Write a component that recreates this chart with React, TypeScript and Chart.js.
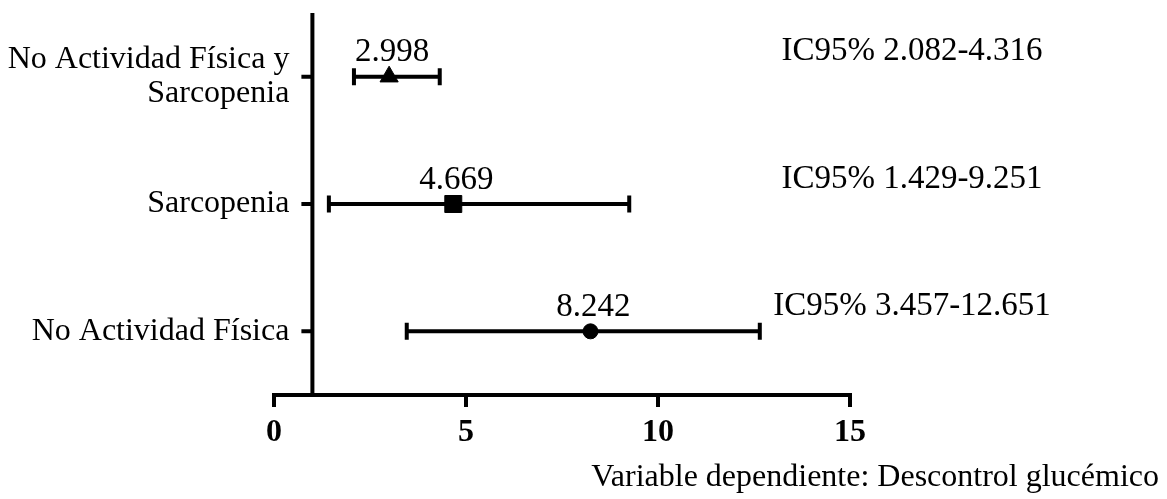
import React, { useEffect, useRef } from 'react';
import { Chart, registerables } from 'chart.js';

Chart.register(...registerables);

// ---------- data ----------
const categories: (string | string[])[] = [
  ['No Actividad Física y', 'Sarcopenia'],
  'Sarcopenia',
  'No Actividad Física',
];
const oddsRatios = [2.998, 4.669, 8.242];
const ciLower = [2.082, 1.429, 3.457];
const ciUpper = [4.316, 9.251, 12.651];
const markerStyles = ['triangle', 'rect', 'circle'];
const markerRadii = [10.5, 12, 7.5];
const xTickValues = [0, 5, 10, 15];
const referenceValue = 1;
const footnote = 'Variable dependiente: Descontrol glucémico';

// ---------- styles ----------
const FONT = "'Liberation Serif', 'Times New Roman', serif";
const TEXT_SIZE = 32;
const NOTE_SIZE = 33;
const W = 1167;
const H = 499;

const forestPlugin = {
  id: 'forest',
  beforeDatasetsDraw(chart: any) {
    const { ctx, chartArea } = chart;
    const x = chart.scales.x;
    const y = chart.scales.y;
    ctx.save();
    ctx.strokeStyle = '#000';
    ctx.lineWidth = 4;
    ctx.lineCap = 'butt';
    // reference vertical line (axis at OR = 1)
    const rx = x.getPixelForValue(referenceValue);
    ctx.beginPath();
    ctx.moveTo(rx, chartArea.top);
    ctx.lineTo(rx, chartArea.bottom);
    ctx.stroke();
    // category tick marks
    ctx.beginPath();
    categories.forEach((_, i) => {
      const py = y.getPixelForValue(i);
      ctx.moveTo(rx, py);
      ctx.lineTo(rx - 11, py);
    });
    ctx.stroke();
    // error bars
    ctx.beginPath();
    oddsRatios.forEach((_, i) => {
      const py = y.getPixelForValue(i);
      const x1 = x.getPixelForValue(ciLower[i]);
      const x2 = x.getPixelForValue(ciUpper[i]);
      ctx.moveTo(x1, py);
      ctx.lineTo(x2, py);
      ctx.moveTo(x1, py - 8.5);
      ctx.lineTo(x1, py + 8.5);
      ctx.moveTo(x2, py - 8.5);
      ctx.lineTo(x2, py + 8.5);
    });
    ctx.stroke();

    // category labels
    ctx.fillStyle = '#000';
    ctx.font = `${TEXT_SIZE}px ${FONT}`;
    ctx.textAlign = 'right';
    ctx.textBaseline = 'middle';
    const lineH = 34;
    categories.forEach((c, i) => {
      const lines = Array.isArray(c) ? c : [c];
      const py = y.getPixelForValue(i);
      const startY = py - ((lines.length - 1) * lineH) / 2;
      lines.forEach((ln, j) => ctx.fillText(ln, rx - 23, startY + j * lineH));
    });
    ctx.restore();
  },
  afterDatasetsDraw(chart: any) {
    const { ctx, chartArea } = chart;
    const x = chart.scales.x;
    const y = chart.scales.y;
    ctx.save();
    ctx.fillStyle = '#000';
    ctx.font = `${NOTE_SIZE}px ${FONT}`;
    ctx.textBaseline = 'middle';
    ctx.textAlign = 'center';
    oddsRatios.forEach((v, i) => {
      const py = y.getPixelForValue(i);
      ctx.fillText(v.toFixed(3), x.getPixelForValue(v) + 3, py - 24);
      ctx.fillText(
        `IC95% ${ciLower[i].toFixed(3)}-${ciUpper[i].toFixed(3)}`,
        chartArea.right + 62,
        py - 25
      );
    });
    ctx.font = `${TEXT_SIZE}px ${FONT}`;
    ctx.textAlign = 'right';
    ctx.textBaseline = 'alphabetic';
    ctx.fillText(footnote, W - 8, 486);
    ctx.restore();
  },
};

export default function App() {
  const ref = useRef<HTMLCanvasElement | null>(null);

  useEffect(() => {
    if (!ref.current) return;
    const chart = new Chart(ref.current, {
      type: 'scatter',
      data: {
        datasets: [
          {
            data: oddsRatios.map((v, i) => ({ x: v, y: i })),
            pointStyle: markerStyles as any,
            pointRadius: markerRadii,
            pointHoverRadius: markerRadii,
            backgroundColor: '#000',
            borderColor: '#000',
            borderWidth: 1,
          },
        ],
      },
      options: {
        animation: false,
        responsive: false,
        devicePixelRatio: 1,
        layout: { padding: { left: 0, right: W - 850, top: 12, bottom: 0 } },
        plugins: {
          legend: { display: false },
          tooltip: { enabled: false },
        },
        scales: {
          x: {
            type: 'linear',
            position: 'bottom',
            min: 0,
            max: 15,
            afterBuildTicks: (s: any) => {
              s.ticks = xTickValues.map((v) => ({ value: v }));
            },
            border: { display: true, color: '#000', width: 4 },
            grid: {
              display: true,
              drawOnChartArea: false,
              drawTicks: true,
              tickLength: 12,
              lineWidth: 4,
              color: '#000',
            },
            ticks: {
              color: '#000',
              padding: 7,
              font: { family: FONT, size: TEXT_SIZE, weight: 'bold' },
            },
            afterFit: (s: any) => {
              s.height = H - 395;
            },
          },
          y: {
            type: 'category',
            labels: categories as any,
            offset: true,
            border: { display: false },
            grid: { display: false, drawTicks: false },
            ticks: { display: false },
            afterFit: (s: any) => {
              s.width = 274;
              s.paddingTop = 0;
              s.paddingBottom = 0;
            },
          },
        },
      },
      plugins: [forestPlugin],
    });
    return () => chart.destroy();
  }, []);

  return (
    <div style={{ position: 'absolute', left: 0, top: 0, width: W, height: H, background: '#fff' }}>
      <canvas ref={ref} width={W} height={H} style={{ width: W, height: H }} />
    </div>
  );
}
